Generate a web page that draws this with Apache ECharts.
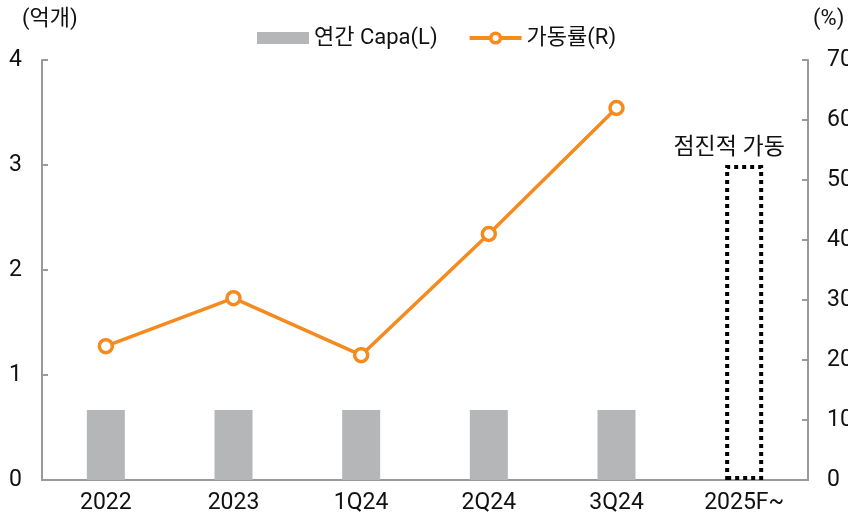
<!DOCTYPE html>
<html>
<head>
<meta charset="utf-8">
<script src="https://cdn.jsdelivr.net/npm/echarts@6/dist/echarts.min.js"></script>
<style>
  html, body { margin: 0; padding: 0; background: #fff; }
  #chart { width: 848px; height: 519px; }
</style>
</head>
<body>
<div id="chart"></div>
<script>
// 데이터
const categories = ['2022', '2023', '1Q24', '2Q24', '3Q24', '2025F~']
const capa = [0.667, 0.667, 0.667, 0.667, 0.667, 3.0] // 억개, 마지막은 점선 박스
const utilization = [22.3, 30.3, 20.8, 41.0, 62.0, null] // %
const leftTicks = [0, 1, 2, 3, 4]
const rightTicks = [0, 10, 20, 30, 40, 50, 60, 70]

const FONT = 'Roboto, "Noto Sans CJK KR", sans-serif'
const axisGray = '#9a9a9a'
const orange = '#f58a1f'

const capaData = capa.map((v, i) => {
  if (i === capa.length - 1) {
    return {
      value: v,
      itemStyle: { color: 'rgba(0,0,0,0)', borderColor: '#000', borderWidth: 4, borderType: [4, 4] },
      label: {
        show: true, position: 'top', formatter: '점진적 가동', offset: [-15, 0],
        fontSize: 23, color: '#111', fontFamily: FONT
      }
    }
  }
  return v
})

const myChart = echarts.init(document.getElementById('chart'))
const option = {
  animation: false,
  textStyle: { fontFamily: FONT },
  graphic: [
    { type: 'text', left: 22, top: 8, style: { text: '(억개)', fontSize: 22, fill: '#111', fontFamily: FONT } },
    { type: 'text', left: 813, top: 8, style: { text: '(%)', fontSize: 22, fill: '#111', fontFamily: FONT } }
  ],
  legend: {
    top: 22, left: 252,
    itemWidth: 52, itemHeight: 12, itemGap: 30,
    textStyle: { fontSize: 22, color: '#111', fontFamily: FONT },
    data: [
      { name: '연간 Capa(L)', icon: 'rect', itemStyle: { color: '#b5b6b8' } },
      {
        name: '가동률(R)',
        itemStyle: { color: '#fff', borderColor: orange, borderWidth: 3.5 },
        lineStyle: { color: orange, width: 4 }
      }
    ]
  },
  grid: { left: 42, right: 40, top: 60, bottom: 39, outerBoundsMode: 'none', containLabel: false },
  xAxis: {
    type: 'category',
    data: categories,
    axisLine: { lineStyle: { color: axisGray, width: 2 } },
    axisTick: { inside: true, length: 7, alignWithLabel: false, lineStyle: { color: axisGray, width: 2 } },
    axisLabel: { fontSize: 23, color: '#111', margin: 12, fontFamily: FONT }
  },
  yAxis: [
    {
      type: 'value', min: 0, max: 4, interval: 1,
      axisLine: { show: true, lineStyle: { color: axisGray, width: 2 } },
      axisTick: { show: true, inside: true, length: 6, lineStyle: { color: axisGray, width: 2 } },
      axisLabel: { fontSize: 23, color: '#111', margin: 20, fontFamily: FONT,
        formatter: v => leftTicks.includes(v) ? String(v) : '' },
      splitLine: { show: false }
    },
    {
      type: 'value', min: 0, max: 70, interval: 10,
      axisLine: { show: true, lineStyle: { color: axisGray, width: 2 } },
      axisTick: { show: true, inside: true, length: 6, lineStyle: { color: axisGray, width: 2 } },
      axisLabel: { fontSize: 23, color: '#111', margin: 19, fontFamily: FONT,
        formatter: v => rightTicks.includes(v) ? String(v) : '' },
      splitLine: { show: false }
    }
  ],
  series: [
    {
      name: '연간 Capa(L)',
      type: 'bar',
      yAxisIndex: 0,
      barWidth: 38,
      itemStyle: { color: '#b5b6b8' },
      data: capaData
    },
    {
      name: '가동률(R)',
      type: 'line',
      yAxisIndex: 1,
      symbol: 'circle',
      symbolSize: 13,
      lineStyle: { color: orange, width: 3.5 },
      itemStyle: { color: '#fff', borderColor: orange, borderWidth: 3.5 },
      data: utilization
    }
  ]
}
myChart.setOption(option)
</script>
</body>
</html>
